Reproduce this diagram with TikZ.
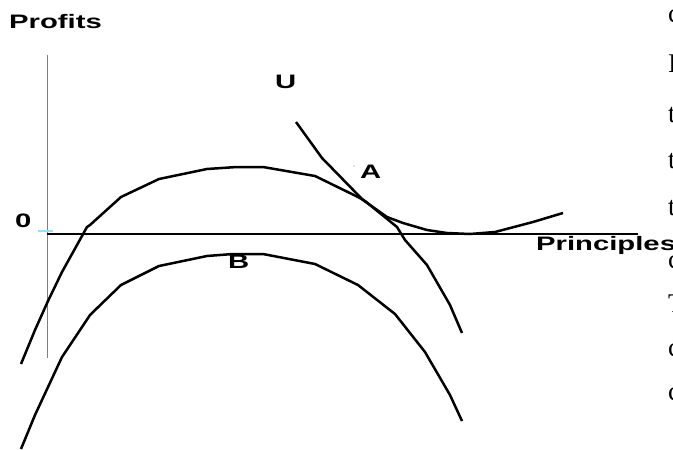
\documentclass[tikz,border=0pt]{standalone}
\usepackage{fontspec}
\newfontfamily\labfont[FakeStretch=1.5]{Liberation Sans Bold}
\newfontfamily\serfont{Liberation Serif}
\begin{document}
\begin{tikzpicture}[x=1pt,y=-1pt,
  curve/.style={line width=2.5pt,line join=round,black},
  lab/.style={inner sep=0pt,anchor=base west,font=\labfont\fontsize{19.5}{19.5}\selectfont},
  edge/.style={inner sep=0pt,anchor=base west,font=\serfont\fontsize{27}{27}\selectfont}]
\useasboundingbox (0,0) rectangle (673,450);
\clip (0,0) rectangle (673,450);
% axes
\draw[line width=1.6pt,gray] (47.5,55) -- (47.5,358);
\draw[line width=1.4pt,black] (47,234) -- (638,234);
\draw[line width=1.2pt,cyan!40] (38,231) -- (53,231);
% upper curve
\draw[curve] (21,364) -- (35,330) -- (48,301) -- (62,272) -- (87,227) -- (90,225) -- (121,197) -- (159,179) -- (207,169) -- (237,167) -- (263,167) -- (315,176) -- (358,197) -- (365,201) -- (397,227) -- (405,240) -- (427,265) -- (450,305) -- (462,333);
% lower curve
\draw[curve] (21,449) -- (35,415) -- (62,357) -- (90,315) -- (121,285) -- (159,266) -- (207,256) -- (233,254) -- (263,254) -- (315,264) -- (358,285) -- (395,314) -- (425,352) -- (450,395) -- (462,421);
% U curve
\draw[curve] (296,122) -- (322,158) -- (363,200) -- (387,217) -- (403,223) -- (427,230) -- (447,233) -- (470,234) -- (495,232) -- (533,222) -- (563,213);
\fill[gray] (354,166) circle (0.6);
% labels
\node[lab] (profits) at (9,28) {Profits};
\node[lab] (zero) at (15,227) {0};
\node[lab] (u) at (275,88) {U};
\node[lab] (a) at (360,178) {A};
\node[lab] (b) at (228,268) {B};
\node[lab] (principles) at (536,250) {Principles};
% clipped text on right edge
\foreach \t/\yy in {c/22,I/72,t/122,t/168,t/215,c/268,T/312,c/356,c/400}{
  \node[edge] at (668,\yy) {\t};
}
\end{tikzpicture}
\end{document}
